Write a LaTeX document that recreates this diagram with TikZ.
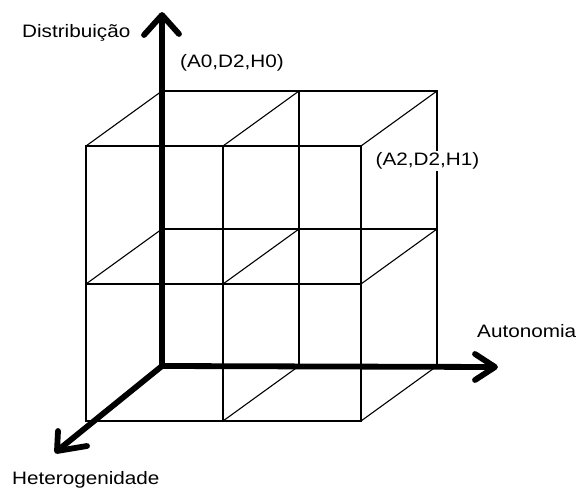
\documentclass[tikz,border=0pt]{standalone}
\usepackage{fontspec}
\newfontfamily\labfont[FakeStretch=1.15]{Liberation Sans}
\begin{document}
\begin{tikzpicture}[x=1pt,y=-1pt,
  thin line/.style={line width=1.3pt, line cap=rect},
  axis/.style={line width=5.8pt},
  barb/.style={line width=5.8pt, line cap=round, line join=round},
  lbl/.style={font=\labfont\fontsize{18}{20}\selectfont, inner sep=0pt}]
\useasboundingbox (0,0) rectangle (578,489);
% back face (A x D at H=0) and front face (H=1)
\foreach \i/\x in {0/162,1/299,2/437}{
  \foreach \j/\y in {0/91,1/229,2/366}{
    \coordinate (b\i\j) at (\x,\y);
  }
}
\foreach \i/\x in {0/86,1/223,2/361}{
  \foreach \j/\y in {0/146,1/284,2/421}{
    \coordinate (f\i\j) at (\x,\y);
  }
}
% front grid
\foreach \i in {0,1,2}{
  \draw[thin line] (f\i0) -- (f\i2);
  \draw[thin line] (f0\i) -- (f2\i);
}
% back grid
\draw[thin line] (b00) -- (b20);
\draw[thin line] (b01) -- (b21);
\draw[thin line] (b10) -- (b12);
\draw[thin line] (b20) -- (b22);
% depth edges
\foreach \i/\j in {0/0,1/0,2/0,0/1,1/1,2/1,1/2,2/2}{
  \draw[line width=1.1pt] (f\i\j) -- (b\i\j);
}
% axes
\coordinate (dtip) at (162,15);
\coordinate (atip) at (495,367);
\coordinate (htip) at (57,451);
\draw[axis] (b02) -- (dtip);
\draw[axis] (b02) -- (atip);
\draw[axis] (b02) -- (htip);
% arrow heads
\coordinate (d1) at (144,35); \coordinate (d2) at (179,34);
\coordinate (a1) at (475,354); \coordinate (a2) at (475,380);
\coordinate (h1) at (58,431); \coordinate (h2) at (87,446);
\draw[barb] (d1) -- (dtip) -- (d2);
\draw[barb] (a1) -- (atip) -- (a2);
\draw[barb] (h1) -- (htip) -- (h2);
% labels
\node[lbl, anchor=base west] (ld) at (22,38) {Distribuição};
\node[lbl, anchor=base west] (la) at (477,337) {Autonomia};
\node[lbl, anchor=base west] (lh) at (12,484) {Heterogenidade};
\node[lbl, anchor=base west] (l0) at (180,68) {(A0,D2,H0)};
\node[lbl, anchor=base west, fill=white, inner sep=1.5pt] (l2) at (374,166) {(A2,D2,H1)};
\end{tikzpicture}
\end{document}
